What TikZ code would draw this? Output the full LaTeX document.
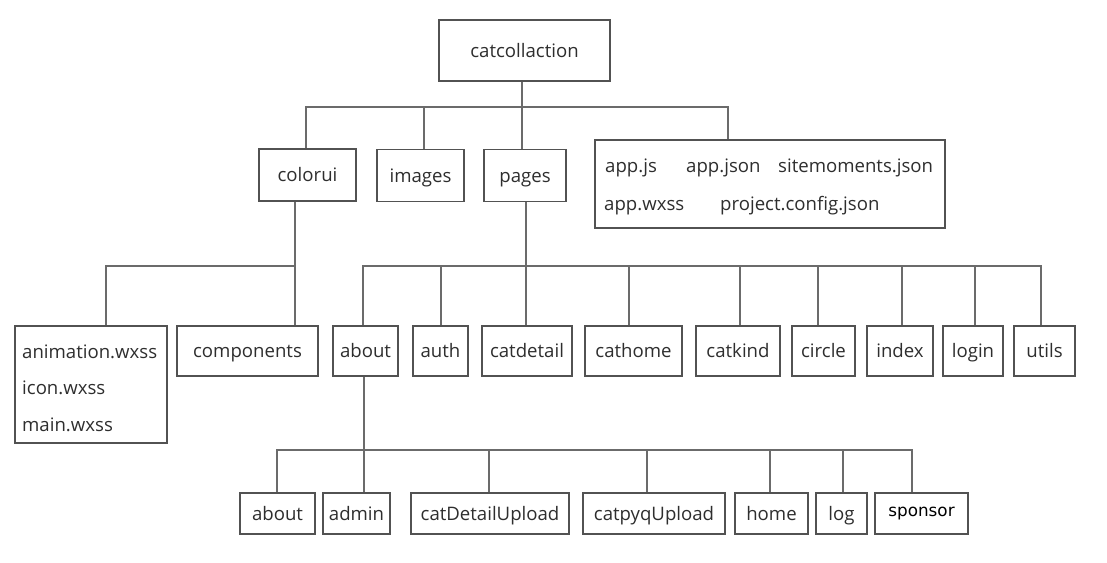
\documentclass[tikz,border=0pt]{standalone}
\usepackage{fontspec}
\setmainfont{Open Sans}
\newfontfamily\spfont{DejaVu Sans}
\begin{document}
\begin{tikzpicture}[x=1pt,y=-1pt,
  txt/.style={font=\fontsize{18.6}{22}\selectfont, text=black!82},
  box/.style={txt, draw=black!68, line width=1.6pt, fill=white, inner sep=0pt, text height=13.5pt, text depth=0pt},
  conn/.style={draw=black!58, line width=2pt},
  lbl/.style={txt, inner sep=0pt, anchor=base west}]
\useasboundingbox (0,0) rectangle (1107,562);
\coordinate (b1) at (0,107);
\coordinate (b2) at (0,266);
\coordinate (b3) at (0,450);
% level 1
\node[box, minimum width=171pt, minimum height=61pt] (root) at (524.5,50.5) {catcollaction};
% level 2
\node[box, minimum width=97pt, minimum height=52pt] (colorui) at (307.5,175) {colorui};
\node[box, minimum width=87pt, minimum height=52pt] (images) at (420.5,175.5) {images};
\node[box, minimum width=82pt, minimum height=52pt] (pages) at (525,175.5) {pages};
\node[box, minimum width=350pt, minimum height=88pt] (app) at (770,184) {};
\node[lbl] (appjs) at (605,172) {app.js};
\node[lbl] (appjson) at (686,172) {app.json};
\node[lbl] (sitem) at (778,172) {sitemoments.json};
\node[lbl] (appwxss) at (604,210) {app.wxss};
\node[lbl] (projcfg) at (720,210) {project.config.json};
% level 3
\node[box, minimum width=152pt, minimum height=117pt] (anim) at (91,384.5) {};
\node[lbl] (animtxt) at (22,358) {animation.wxss};
\node[lbl] (icontxt) at (22,394) {icon.wxss};
\node[lbl] (maintxt) at (22,431) {main.wxss};
\node[box, minimum width=141pt, minimum height=50pt] (comp) at (247.5,351) {components};
\node[box, minimum width=65pt, minimum height=50pt] (about) at (365.5,351) {about};
\node[box, minimum width=55pt, minimum height=50pt] (auth) at (440.5,351) {auth};
\node[box, minimum width=90pt, minimum height=50pt] (catdetail) at (527,351) {catdetail};
\node[box, minimum width=97pt, minimum height=50pt] (cathome) at (633.5,351) {cathome};
\node[box, minimum width=84pt, minimum height=50pt] (catkind) at (738,351) {catkind};
\node[box, minimum width=63pt, minimum height=50pt] (circle) at (823.5,351) {circle};
\node[box, minimum width=66pt, minimum height=50pt] (index) at (900,351) {index};
\node[box, minimum width=60pt, minimum height=50pt] (login) at (973,351) {login};
\node[box, minimum width=61pt, minimum height=50pt] (utils) at (1044.5,351) {utils};
% level 4
\node[box, minimum width=75pt, minimum height=41pt] (about2) at (277.5,513.5) {about};
\node[box, minimum width=67pt, minimum height=41pt] (admin) at (356.5,513.5) {admin};
\node[box, minimum width=158pt, minimum height=41pt] (cdu) at (490,513.5) {catDetailUpload};
\node[box, minimum width=142pt, minimum height=41pt] (cpu) at (654,513.5) {catpyqUpload};
\node[box, minimum width=73pt, minimum height=41pt] (home) at (771.5,513.5) {home};
\node[box, minimum width=51pt, minimum height=41pt] (log) at (841.5,513.5) {log};
\node[box, minimum width=93pt, minimum height=41pt, font=\spfont\fontsize{16.8}{20}\selectfont, text=black, text height=6pt] (sponsor) at (921.5,513.5) {sponsor};
% connectors level 1-2
\draw[conn] ([xshift=-2.5pt]root.south) -- ([xshift=-3pt]pages.north);
\draw[conn] ([xshift=-1.5pt]colorui.north) -- ([xshift=-1.5pt]colorui.north |- b1) -- ([xshift=-42.5pt]app.north |- b1) -- ([xshift=-42.5pt]app.north);
\draw[conn] ([xshift=3.5pt]images.north) -- ([xshift=3.5pt]images.north |- b1);
% colorui children
\draw[conn] ([xshift=-13pt]colorui.south) -- ([xshift=47pt]comp.north);
\draw[conn] ([xshift=15pt]anim.north) -- ([xshift=15pt]anim.north |- b2) -- ([xshift=-13pt]colorui.south |- b2);
% pages children
\draw[conn] ([xshift=1pt]pages.south) -- ([xshift=-1pt]catdetail.north);
\draw[conn] ([xshift=-2.5pt]about.north) -- ([xshift=-2.5pt]about.north |- b2) -- ([xshift=-3.5pt]utils.north |- b2) -- ([xshift=-3.5pt]utils.north);
\draw[conn] ([xshift=0.5pt]auth.north) -- ([xshift=0.5pt]auth.north |- b2);
\draw[conn] ([xshift=-4.5pt]cathome.north) -- ([xshift=-4.5pt]cathome.north |- b2);
\draw[conn] ([xshift=2pt]catkind.north) -- ([xshift=2pt]catkind.north |- b2);
\draw[conn] ([xshift=-5.5pt]circle.north) -- ([xshift=-5.5pt]circle.north |- b2);
\draw[conn] ([xshift=2pt]index.north) -- ([xshift=2pt]index.north |- b2);
\draw[conn] ([xshift=2pt]login.north) -- ([xshift=2pt]login.north |- b2);
% about children
\draw[conn] ([xshift=-1.5pt]about.south) -- ([xshift=7.5pt]admin.north);
\draw[conn] ([xshift=-0.5pt]about2.north) -- ([xshift=-0.5pt]about2.north |- b3) -- ([xshift=-9.5pt]sponsor.north |- b3) -- ([xshift=-9.5pt]sponsor.north);
\draw[conn] ([xshift=-1pt]cdu.north) -- ([xshift=-1pt]cdu.north |- b3);
\draw[conn] ([xshift=-7pt]cpu.north) -- ([xshift=-7pt]cpu.north |- b3);
\draw[conn] ([xshift=-1.5pt]home.north) -- ([xshift=-1.5pt]home.north |- b3);
\draw[conn] ([xshift=1.5pt]log.north) -- ([xshift=1.5pt]log.north |- b3);
\end{tikzpicture}
\end{document}
